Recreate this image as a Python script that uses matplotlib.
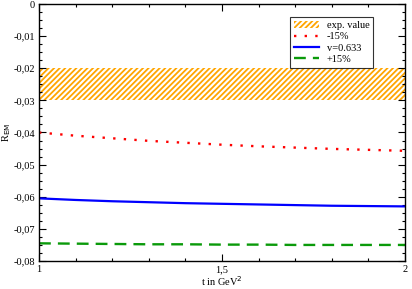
import matplotlib.pyplot as plt
from matplotlib.ticker import MultipleLocator, FuncFormatter

plt.rcParams['font.family'] = ['Liberation Serif', 'DejaVu Serif']
plt.rcParams['hatch.linewidth'] = 1.3
plt.rcParams['hatch.color'] = '#FFA500'

# data
t = [1.0, 1.1, 1.2, 1.3, 1.4, 1.5, 1.6, 1.7, 1.8, 1.9, 2.0]
minus15 = [-0.0400, -0.0410, -0.0418, -0.0426, -0.0432, -0.0438, -0.0443, -0.0447, -0.0451, -0.0454, -0.0457]
nominal = [-0.0605, -0.0610, -0.0614, -0.0617, -0.0620, -0.0622, -0.0624, -0.0626, -0.0628, -0.0629, -0.0630]
plus15 = [-0.0745, -0.0746, -0.0747, -0.0748, -0.0748, -0.0749, -0.0749, -0.0750, -0.0750, -0.0750, -0.0750]
exp_low, exp_high = -0.030, -0.020

fig = plt.figure(figsize=(4.12, 2.89), dpi=100)
ax = fig.add_axes([39 / 412, 1 - 261 / 289, 366 / 412, 257 / 289])

ax.fill_between([1, 2], exp_low, exp_high, facecolor='white', edgecolor='#FFA500',
                hatch='//////', linewidth=0, label='exp. value')
ax.plot(t, minus15, color='red', linestyle=(0, (1, 3.5)), linewidth=1.7, label='-15%')
ax.plot(t, nominal, color='blue', linewidth=1.6, label='v=0.633')
ax.plot(t, plus15, color='#0A9A0A', linestyle=(0, (5, 3)), linewidth=1.7, label='+15%')

ax.set_xlim(1, 2)
ax.set_ylim(-0.08, 0)
ax.xaxis.set_major_locator(MultipleLocator(0.5))
ax.xaxis.set_minor_locator(MultipleLocator(0.1))
ax.yaxis.set_major_locator(MultipleLocator(0.01))
ax.yaxis.set_minor_locator(MultipleLocator(0.0025))

comma = FuncFormatter(lambda v, p: ('%g' % round(v, 4)).replace('.', ','))
ax.xaxis.set_major_formatter(comma)
ax.yaxis.set_major_formatter(comma)

ax.tick_params(which='both', direction='in', top=True, right=True, labelsize=7.5, pad=3)
ax.tick_params(which='major', length=5, width=0.8)
ax.tick_params(which='minor', length=2.5, width=0.8)
for s in ax.spines.values():
    s.set_linewidth(1.0)

ax.set_xlabel('t in GeV$^2$', fontsize=7.5, labelpad=0)
ax.set_ylabel(r'R$_{\rm EM}$', fontsize=7.5, labelpad=0)

leg = ax.legend(loc='upper left', bbox_to_anchor=((290 - 39) / 366, 1 - 13 / 257),
                fontsize=7.5, frameon=True, fancybox=False, edgecolor='black',
                handlelength=2.4, borderpad=0.35, labelspacing=0.2, handletextpad=0.8,
                borderaxespad=0)
leg.get_frame().set_linewidth(0.8)

fig.savefig('out.png', dpi=100)
